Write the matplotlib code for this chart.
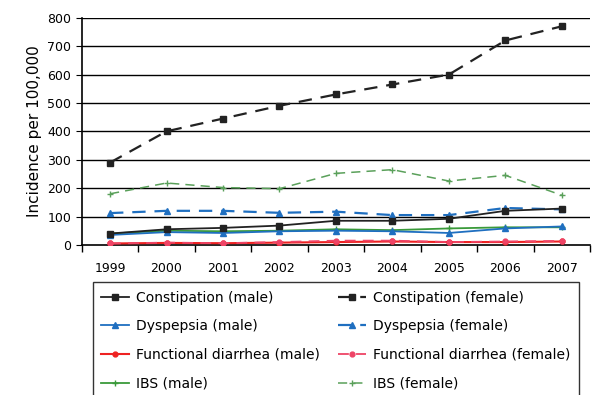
import matplotlib
matplotlib.use("Agg")
import matplotlib.pyplot as plt
import numpy as np

years = ["1999", "2000", "2001", "2002", "2003", "2004", "2005", "2006", "2007"]

constipation_male = [40, 55, 60, 68, 85, 85, 92, 120, 128]
constipation_female = [290, 400, 445, 490, 530, 565, 600, 720, 770]
dyspepsia_male = [35, 45, 42, 48, 50, 48, 42, 58, 65]
dyspepsia_female = [112, 120, 120, 113, 117, 105, 105, 130, 125]
diarrhea_male = [5, 7, 6, 8, 10, 12, 10, 10, 12]
diarrhea_female = [5, 8, 6, 10, 15, 15, 10, 12, 14]
ibs_male = [40, 50, 48, 50, 55, 52, 58, 62, 62]
ibs_female = [180, 218, 202, 198, 252, 265, 225, 245, 175]

x = np.arange(len(years))

fig = plt.figure(figsize=(5.93, 3.95), dpi=100)
ax = fig.add_axes([0.138, 0.38, 0.857, 0.575])

for v in range(100, 900, 100):
    ax.axhline(v, color="black", lw=1.0, zorder=1)

# male series (solid), female series (dashed)
ax.plot(x, ibs_male, "-", color="#3a9a3a", marker="+", ms=5, lw=1.3, label="IBS (male)", zorder=3)
ax.plot(x, diarrhea_male, "-", color="#ee2222", marker="o", ms=3.5, lw=1.5, label="Functional diarrhea (male)", zorder=3)
ax.plot(x, dyspepsia_male, "-", color="#1f6fc0", marker="^", ms=4.5, lw=1.3, label="Dyspepsia (male)", zorder=3)
ax.plot(x, constipation_male, "-", color="#222222", marker="s", ms=4.5, lw=1.3, label="Constipation (male)", zorder=4)

ax.plot(x, ibs_female, "--", color="#5aa05a", marker="+", ms=5, lw=1.1, dashes=(6, 4), label="IBS (female)", zorder=3)
ax.plot(x, diarrhea_female, "--", color="#ee4466", marker="o", ms=3.5, lw=1.3, dashes=(6, 4), label="Functional diarrhea (female)", zorder=3)
ax.plot(x, dyspepsia_female, "--", color="#1f6fc0", marker="^", ms=4.5, lw=1.6, dashes=(6, 4), label="Dyspepsia (female)", zorder=3)
ax.plot(x, constipation_female, "--", color="#222222", marker="s", ms=4.5, lw=1.6, dashes=(6, 4), label="Constipation (female)", zorder=4)

ax.set_xlim(-0.5, len(years) - 0.5)
ax.set_ylim(0, 800)
ax.set_yticks(range(0, 900, 100))
ax.set_xticks(x)
ax.set_xticklabels(years, fontsize=9)
ax.set_xticks(np.arange(-0.5, len(years)), minor=True)
ax.tick_params(axis="x", which="major", length=0, pad=12)
ax.tick_params(axis="x", which="minor", length=5, direction="out", width=1)
ax.tick_params(axis="y", labelsize=9, length=4, direction="out")
ax.set_ylabel("Incidence per 100,000", fontsize=11)

for s in ["top", "right"]:
    ax.spines[s].set_visible(False)
ax.spines["left"].set_linewidth(1.2)
ax.spines["bottom"].set_linewidth(1.2)

h, l = ax.get_legend_handles_labels()
order = [3, 2, 1, 0, 7, 6, 5, 4]
leg = fig.legend([h[i] for i in order], [l[i] for i in order], ncol=2,
                 loc="upper left", bbox_to_anchor=(0.157, 0.285),
                 fontsize=10, frameon=True, fancybox=False, edgecolor="black",
                 handlelength=2.0, handletextpad=0.5, columnspacing=1.3,
                 labelspacing=1.05, borderaxespad=0, borderpad=0.6)
leg.get_frame().set_linewidth(1.0)

fig.savefig("out.png", dpi=100)
